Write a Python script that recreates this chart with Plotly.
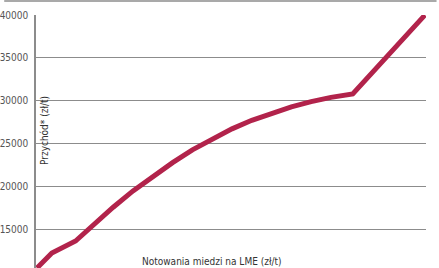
import plotly.graph_objects as go

# LME copper price (arbitrary linear scale, no ticks shown) and revenue (zł/t)
lme_price = [100, 1600, 4000, 5800, 7800, 9800, 11800, 13800, 15800, 17800,
             19800, 21800, 23800, 25800, 27800, 29800, 32000, 39300]
revenue = [10450, 12200, 13600, 15500, 17550, 19450, 21150, 22750, 24250, 25550,
           26700, 27700, 28550, 29270, 29880, 30380, 30770, 40000]
y_ticks = [15000, 20000, 25000, 30000, 35000, 40000]

font = "Liberation Sans Narrow, DejaVu Sans Condensed, sans-serif"

fig = go.Figure()
fig.add_trace(go.Scatter(
    x=lme_price, y=revenue, mode="lines",
    line=dict(color="#b2234b", width=5),
    cliponaxis=False, hoverinfo="skip"
))

fig.update_layout(
    width=439, height=268,
    margin=dict(l=32, r=13, t=15, b=0),
    paper_bgcolor="white", plot_bgcolor="white",
    showlegend=False,
    font=dict(family=font, color="#555555", size=10),
    xaxis=dict(range=[0, 39400], showgrid=False, showticklabels=False,
               zeroline=False, showline=False, ticks=""),
    yaxis=dict(range=[10450, 40000], tickvals=y_ticks,
               ticktext=[str(v) for v in y_ticks],
               showgrid=True, gridcolor="#8c8c8c", gridwidth=1.2,
               zeroline=False, showline=True, linecolor="#8c8c8c", linewidth=1.5,
               ticks="", ticklabelstandoff=4,
               tickfont=dict(family=font, size=10, color="#555555")),
    annotations=[
        dict(text="Notowania miedzi na LME (zł/t)", xref="paper", yref="paper",
             x=0.452, y=0.024, xanchor="center", yanchor="middle", showarrow=False,
             font=dict(family=font, size=10, color="#333333")),
        dict(text="Przychód* (zł/t)", xref="paper", yref="paper",
             x=0.0203, y=0.545, xanchor="center", yanchor="middle",
             textangle=-90, showarrow=False,
             font=dict(family=font, size=10, color="#333333")),
    ],
    shapes=[
        dict(type="line", xref="paper", yref="paper",
             x0=-0.0815, x1=1.027, y0=1.055, y1=1.055,
             line=dict(color="#8c8c8c", width=1.5)),
    ],
)

fig.write_html("out.html")
